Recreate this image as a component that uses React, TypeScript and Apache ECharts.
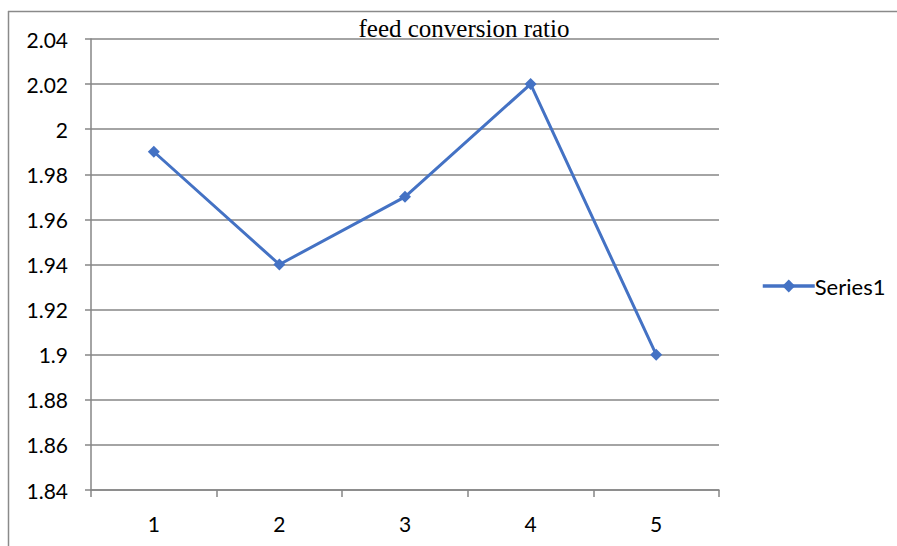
import React, { useEffect, useRef } from "react";
import * as echarts from "echarts";

const categories = ["1", "2", "3", "4", "5"];
const series1 = [1.99, 1.94, 1.97, 2.02, 1.9];
const yMin = 1.84;
const yMax = 2.04;
const yStep = 0.02;
const titleText = "feed conversion ratio";
const seriesName = "Series1";

export default function App() {
  const ref = useRef<HTMLDivElement>(null);
  useEffect(() => {
    if (!ref.current) return;
    const chart = echarts.init(ref.current, null, { renderer: "svg" });
    const labelFont = "Lato, 'Open Sans', sans-serif";
    chart.setOption({
      animation: false,
      backgroundColor: "#ffffff",
      title: {
        text: titleText,
        left: 459,
        top: 11,
        textAlign: "center",
        textStyle: {
          fontFamily: "'Liberation Serif', 'DejaVu Serif', serif",
          fontWeight: "normal",
          fontSize: 25,
          color: "#000000",
        },
      },
      legend: {
        left: 756,
        top: 270,
        itemWidth: 52,
        itemHeight: 16,
        itemGap: 2,
        lineStyle: { width: 3.5, color: "#4472C4" },
        textStyle: { fontFamily: labelFont, fontSize: 22, color: "#000000", padding: [0, 0, 0, -5] },
        data: [{ name: seriesName }],
      },
      grid: { left: 91, top: 39, width: 628, height: 451, containLabel: false },
      xAxis: {
        type: "category",
        data: categories,
        boundaryGap: true,
        axisLine: { lineStyle: { color: "#868686", width: 1.5 } },
        axisTick: { show: true, length: 7, lineStyle: { color: "#868686", width: 1.5 } },
        axisLabel: { fontFamily: labelFont, fontSize: 21, color: "#000000", margin: 23 },
        splitLine: { show: false },
      },
      yAxis: {
        type: "value",
        min: yMin,
        max: yMax,
        interval: yStep,
        axisLine: { show: true, lineStyle: { color: "#868686", width: 1.5 } },
        axisTick: { show: true, length: 6, lineStyle: { color: "#868686", width: 1.5 } },
        axisLabel: {
          fontFamily: labelFont,
          fontSize: 21,
          color: "#000000",
          margin: 23,
          formatter: (v: number) => String(parseFloat(v.toFixed(2))),
        },
        splitLine: { show: true, lineStyle: { color: "#868686", width: 1.5 } },
      },
      series: [
        {
          name: seriesName,
          type: "line",
          data: series1,
          symbol: "diamond",
          symbolSize: 12,
          lineStyle: { color: "#4472C4", width: 3 },
          itemStyle: { color: "#4472C4" },
        },
      ],
      graphic: [
        {
          type: "line",
          shape: { x1: 8, y1: 11.5, x2: 897, y2: 11.5 },
          style: { stroke: "#8a8a8a", lineWidth: 1.5 },
        },
        {
          type: "line",
          shape: { x1: 8.5, y1: 11, x2: 8.5, y2: 546 },
          style: { stroke: "#8a8a8a", lineWidth: 1.5 },
        },
      ],
    });
    return () => chart.dispose();
  }, []);
  return (
    <div
      ref={ref}
      style={{ position: "fixed", left: 0, top: 0, width: 897, height: 546, background: "#fff" }}
    />
  );
}
